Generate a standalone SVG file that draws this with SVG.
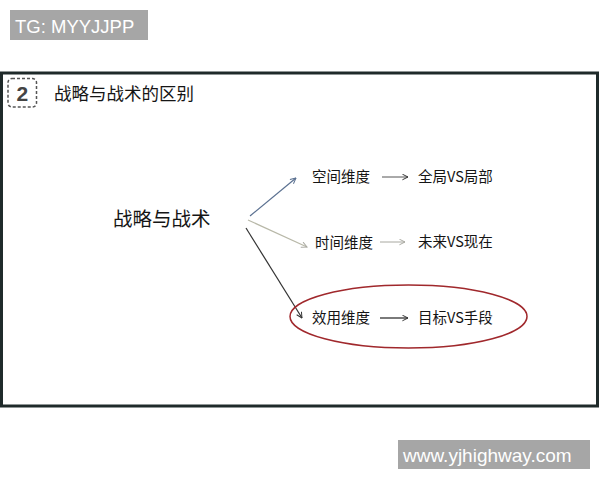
<svg xmlns="http://www.w3.org/2000/svg" width="600" height="480" viewBox="0 0 600 480">
<style>
.cjk{font-family:"Noto Sans CJK SC","Liberation Sans",sans-serif;fill:#151515}
.lbl{font-size:14.5px}
.wm{font-family:"Liberation Sans","DejaVu Sans",sans-serif;fill:#ffffff}
</style>
<defs>
<marker id="ah-blue" viewBox="0 0 10 10" refX="9" refY="5" markerWidth="7" markerHeight="7" orient="auto" markerUnits="userSpaceOnUse"><path d="M1,1 L9,5 L1,9" fill="none" stroke="#5a7090" stroke-width="1.4"/></marker>
<marker id="ah-gray" viewBox="0 0 10 10" refX="9" refY="5" markerWidth="7" markerHeight="7" orient="auto" markerUnits="userSpaceOnUse"><path d="M1,1 L9,5 L1,9" fill="none" stroke="#a8a8a0" stroke-width="1.4"/></marker>
<marker id="ah-dark" viewBox="0 0 10 10" refX="9" refY="5" markerWidth="7" markerHeight="7" orient="auto" markerUnits="userSpaceOnUse"><path d="M1,1 L9,5 L1,9" fill="none" stroke="#333333" stroke-width="1.4"/></marker>
</defs>
<rect width="600" height="480" fill="#ffffff"/>
<g id="tg-label">
<rect x="10" y="10" width="138" height="30" fill="#a6a6a6"/>
<text x="15" y="32.5" class="wm" font-size="18.5">TG: MYYJJPP</text>
</g>
<g id="frame">
<rect x="1.5" y="73" width="596" height="333" fill="#ffffff" stroke="#1f2a2a" stroke-width="3"/>
</g>
<g id="header">
<rect x="8" y="78.5" width="28.5" height="28.5" rx="4" fill="none" stroke="#555" stroke-width="1.5" stroke-dasharray="3,2"/>
<text x="22.3" y="100.5" text-anchor="middle" font-family="Liberation Sans,sans-serif" font-weight="bold" font-size="21" fill="#444">2</text>
<text x="54" y="100" class="cjk" font-size="17.5" fill="#333">战略与战术的区别</text>
</g>
<g id="root">
<text x="113" y="226" class="cjk" font-size="19.5">战略与战术</text>
</g>
<g id="connectors">
<line x1="250" y1="216" x2="296" y2="178" stroke="#5a7090" stroke-width="1.2" marker-end="url(#ah-blue)"/>
<line x1="248" y1="220" x2="307" y2="247" stroke="#b8b8a8" stroke-width="1.2" marker-end="url(#ah-gray)"/>
<line x1="246" y1="228" x2="302" y2="318" stroke="#333333" stroke-width="1.2" marker-end="url(#ah-dark)"/>
<line x1="382" y1="177" x2="408" y2="177" stroke="#555" stroke-width="1" marker-end="url(#ah-dark)"/>
<line x1="380" y1="242" x2="405" y2="242" stroke="#a8a8a0" stroke-width="1" marker-end="url(#ah-gray)"/>
<line x1="380" y1="318" x2="408" y2="318" stroke="#222" stroke-width="1.2" marker-end="url(#ah-dark)"/>
</g>
<g id="node-space">
<text x="312" y="182" class="cjk lbl">空间维度</text>
<text x="418" y="182" class="cjk lbl">全局VS局部</text>
</g>
<g id="node-time">
<text x="315" y="248" class="cjk lbl">时间维度</text>
<text x="418" y="247" class="cjk lbl">未来VS现在</text>
</g>
<g id="node-effect">
<ellipse cx="408.5" cy="316.5" rx="118.5" ry="31.5" fill="none" stroke="#a0282c" stroke-width="1.5"/>
<text x="312" y="323" class="cjk lbl">效用维度</text>
<text x="418" y="323" class="cjk lbl">目标VS手段</text>
</g>
<g id="web-label">
<rect x="398" y="440" width="192" height="29" fill="#a6a6a6"/>
<text x="403" y="461.5" class="wm" font-size="19">www.yjhighway.com</text>
</g>
</svg>
